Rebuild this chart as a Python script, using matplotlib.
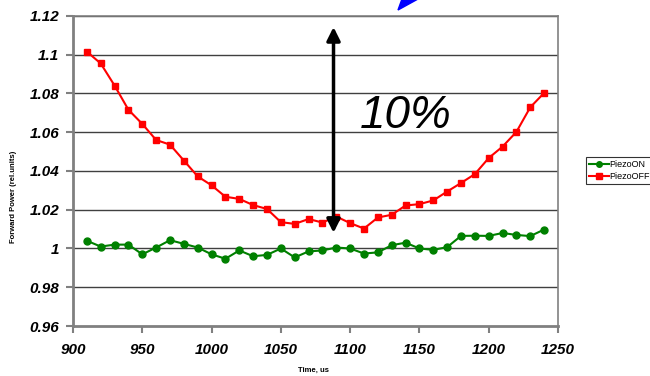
import matplotlib.pyplot as plt
from matplotlib.patches import Polygon

plt.rcParams['font.family'] = ['Liberation Sans', 'DejaVu Sans']

time_us = [910, 920, 930, 940, 950, 960, 970, 980, 990, 1000,
           1010, 1020, 1030, 1040, 1050, 1060, 1070, 1080, 1090, 1100,
           1110, 1120, 1130, 1140, 1150, 1160, 1170, 1180, 1190, 1200,
           1210, 1220, 1230, 1240]

piezo_on = [1.0040, 1.0010, 1.0020, 1.0020, 0.9970, 1.0005, 1.0043, 1.0024, 1.0005, 0.9970,
            0.9947, 0.9990, 0.9960, 0.9967, 1.0000, 0.9954, 0.9985, 0.9990, 1.0005, 1.0000,
            0.9974, 0.9980, 1.0017, 1.0030, 1.0000, 0.9993, 1.0007, 1.0065, 1.0066, 1.0065,
            1.0080, 1.0070, 1.0064, 1.0098]

piezo_off = [1.1016, 1.0955, 1.0841, 1.0716, 1.0643, 1.0560, 1.0536, 1.0454, 1.0372, 1.0326,
             1.0267, 1.0256, 1.0224, 1.0204, 1.0136, 1.0127, 1.0152, 1.0134, 1.0165, 1.0131,
             1.0103, 1.0160, 1.0174, 1.0222, 1.0229, 1.0248, 1.0294, 1.0338, 1.0384, 1.0467,
             1.0526, 1.0602, 1.0729, 1.0803]

y_ticks = [0.96, 0.98, 1, 1.02, 1.04, 1.06, 1.08, 1.1, 1.12]
y_tick_labels = ["0.96", "0.98", "1", "1.02", "1.04", "1.06", "1.08", "1.1", "1.12"]
x_ticks = [900, 950, 1000, 1050, 1100, 1150, 1200, 1250]

# double arrow marking the spread between the two curves
arrow_x = 1088
arrow_top = 1.1143
arrow_bottom = 1.0081

fig = plt.figure(figsize=(6.5, 3.76), dpi=100)
ax = fig.add_axes([73 / 650, 50 / 376, 485 / 650, 310 / 376])

for y in y_ticks[1:]:
    ax.axhline(y, color='#404040', lw=1.0, zorder=1)

ax.plot(time_us, piezo_on, color='#008000', lw=1.5, marker='o', ms=5,
        label='PiezoON', zorder=3)
ax.plot(time_us, piezo_off, color='#ff0000', lw=1.5, marker='s', ms=5,
        label='PiezoOFF', zorder=3)

ax.annotate('', xy=(arrow_x, arrow_top), xytext=(arrow_x, arrow_bottom),
            arrowprops=dict(arrowstyle='<|-|>', color='black', lw=2.5,
                            mutation_scale=20, shrinkA=0, shrinkB=0),
            zorder=4)
ax.text(1140, 1.0685, '10%', fontsize=33, style='italic',
        ha='center', va='center', zorder=4)

ax.set_xlim(900, 1250)
ax.set_ylim(0.96, 1.12)
ax.set_xticks(x_ticks)
ax.set_yticks(y_ticks)
ax.set_yticklabels(y_tick_labels)
for lab in ax.get_xticklabels():
    lab.set_fontsize(11)
    lab.set_fontweight('bold')
    lab.set_fontstyle('italic')
for lab in ax.get_yticklabels():
    lab.set_fontsize(11)
    lab.set_fontweight('bold')
    lab.set_fontstyle('italic')
ax.tick_params(axis='both', direction='out', length=5, width=1.5,
               color='#808080', pad=5)
ax.tick_params(axis='x', pad=7)

for side in ['left', 'bottom']:
    ax.spines[side].set_color('#808080')
    ax.spines[side].set_linewidth(2)
for side in ['top', 'right']:
    ax.spines[side].set_color('#808080')
    ax.spines[side].set_linewidth(1.2)

fig.text(313 / 650, 1 - 370 / 376, 'Time, us', fontsize=5.5, fontweight='bold',
         ha='center', va='center')
fig.text(14 / 650, 1 - 197 / 376, 'Forward Power (rel.units)', fontsize=5.5,
         fontweight='bold', rotation=90, ha='center', va='center')

leg = fig.legend(loc='upper left', bbox_to_anchor=(586 / 650, 1 - 157 / 376),
                 fontsize=6.5, frameon=True, fancybox=False, edgecolor='black',
                 borderpad=0.3, labelspacing=0.35, handlelength=2.2,
                 handletextpad=0.1, borderaxespad=0)
leg.get_frame().set_linewidth(0.8)
for h in leg.legend_handles:
    h.set_markersize(4)

# blue arrowhead partly cut off at the top edge
tip = [(398, 10), (402, -1), (418, -1)]
fig.patches.append(Polygon([(x / 650, 1 - y / 376) for x, y in tip], closed=True,
                           transform=fig.transFigure, color='#0000ff'))

fig.savefig('out.png', dpi=100)
